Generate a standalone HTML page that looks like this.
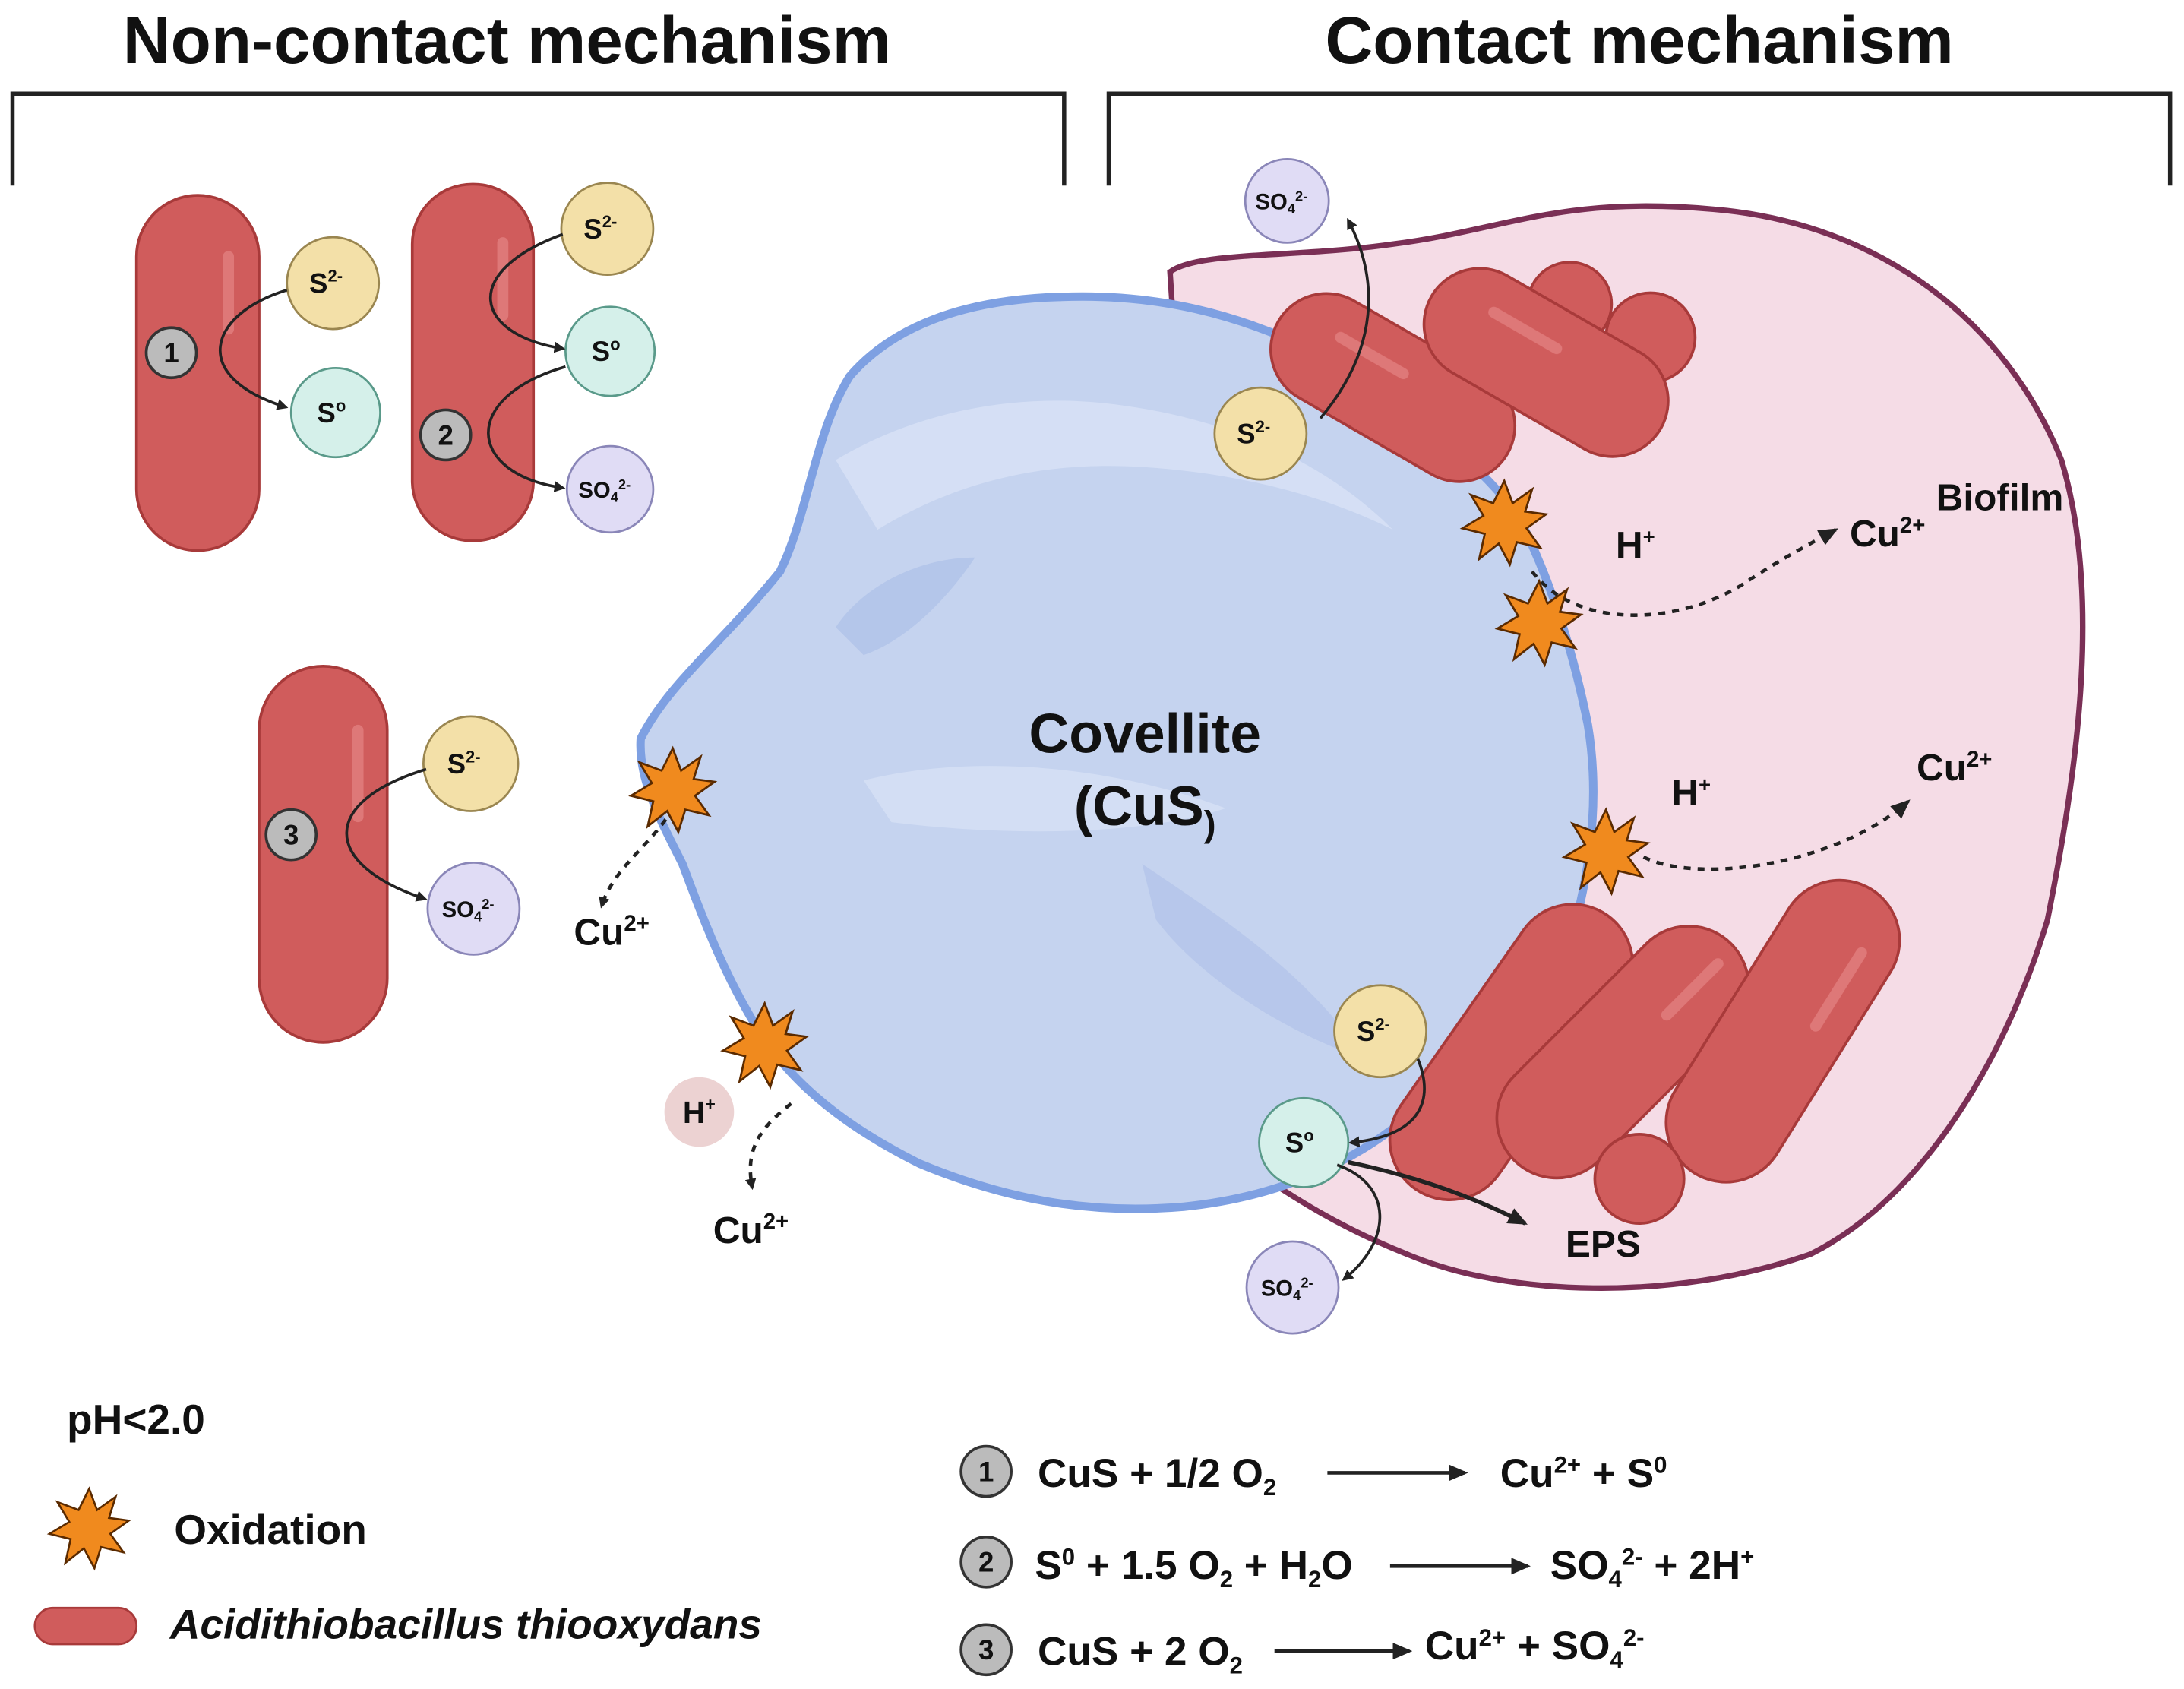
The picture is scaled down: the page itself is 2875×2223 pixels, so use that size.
<!DOCTYPE html>
<html><head><meta charset="utf-8"><style>html,body{margin:0;padding:0;background:#fff}svg{display:block}</style></head>
<body>
<svg width="2875" height="2223" viewBox="0 0 1568 1212" xmlns="http://www.w3.org/2000/svg" font-family="Liberation Sans, sans-serif" font-weight="bold">
<defs>
<marker id="ah" markerWidth="8" markerHeight="8" refX="6" refY="4" orient="auto" markerUnits="userSpaceOnUse"><path d="M0,0 L8,4 L0,8 Z" fill="#222"/></marker>
<marker id="ah2" markerWidth="14" markerHeight="12" refX="12" refY="6" orient="auto" markerUnits="userSpaceOnUse"><path d="M0,0 L14,6 L0,12 Z" fill="#222"/></marker>
<g id="star"><polygon points="0,-30 6,-14 20,-24 15,-8 30,-6 16,4 26,18 9,14 4,30 -4,15 -18,26 -14,8 -30,4 -15,-5 -24,-20 -8,-14" fill="#f08a1e" stroke="#5a2a00" stroke-width="1.5"/></g>
</defs>

<!-- titles -->
<text x="364" y="45" font-size="47.5" text-anchor="middle" fill="#111">Non-contact mechanism</text>
<text x="1177" y="45" font-size="47.5" text-anchor="middle" fill="#111">Contact mechanism</text>
<path d="M9,133 V67 H764 V133" fill="none" stroke="#222" stroke-width="3"/>
<path d="M796,133 V67 H1558 V133" fill="none" stroke="#222" stroke-width="3"/>

<!-- biofilm -->
<path d="M840,195 C860,180 930,185 1000,175 C1080,165 1120,140 1230,150 C1350,160 1440,230 1480,330 C1510,430 1490,560 1470,660 C1440,760 1380,860 1300,900 C1200,935 1080,930 1010,900 C960,880 930,860 900,840 L860,500 Z" fill="#f5dce6" stroke="#7a2f55" stroke-width="4"/>

<!-- covellite -->
<path d="M460,530 C480,490 520,460 560,410 C580,370 585,310 610,270 C640,235 690,215 760,213 C830,210 890,225 950,255 C1010,290 1060,330 1090,370 C1115,420 1130,470 1140,520 C1150,580 1140,640 1120,700 C1090,750 1050,780 1000,810 C960,840 910,860 850,866 C780,872 720,860 660,835 C610,810 570,780 545,740 C520,700 505,660 490,620 C475,590 458,560 460,530 Z" fill="#c5d3ef" stroke="#7ea0e2" stroke-width="6"/>
<path d="M600,330 C650,300 720,280 800,290 C880,300 950,330 1000,380 C960,360 900,340 820,335 C740,330 680,350 630,380 Z" fill="#d8e2f6" opacity="0.8"/>
<path d="M620,560 C700,540 800,550 880,580 C820,600 720,600 640,590 Z" fill="#d8e2f6" opacity="0.7"/>
<path d="M600,450 C620,420 660,400 700,400 C680,430 650,460 620,470 Z" fill="#adc0e8" opacity="0.7"/>
<path d="M820,620 C880,660 940,700 980,760 C920,740 860,700 830,660 Z" fill="#adc0e8" opacity="0.6"/>
<text x="822" y="540" font-size="40" text-anchor="middle" fill="#111">Covellite</text>
<text x="822" y="592" font-size="40" text-anchor="middle" fill="#111">(CuS<tspan font-size="26" dy="8">)</tspan></text>

<!-- rods: non-contact -->
<g fill="#d05c5c" stroke="#a83a3a" stroke-width="2">
<rect x="98" y="140" width="88" height="255" rx="44"/>
<rect x="296" y="132" width="87" height="256" rx="43"/>
<rect x="186" y="478" width="92" height="270" rx="46"/>
</g>
<g fill="#e88a8a" opacity="0.6">
<rect x="160" y="180" width="8" height="60" rx="4"/>
<rect x="357" y="170" width="8" height="60" rx="4"/>
<rect x="253" y="520" width="8" height="70" rx="4"/>
</g>

<!-- contact rods -->
<g fill="#d05c5c" stroke="#a83a3a" stroke-width="2">
<g transform="translate(1000,278) rotate(30)"><rect x="-95" y="-40" width="190" height="80" rx="40"/></g>
<circle cx="1127" cy="218" r="30"/>
<circle cx="1185" cy="242" r="32"/>
<g transform="translate(1110,260) rotate(30)"><rect x="-95" y="-40" width="190" height="80" rx="40"/></g>
<g transform="translate(1085,755) rotate(-55)"><rect x="-120" y="-43" width="240" height="86" rx="43"/></g>
<g transform="translate(1165,755) rotate(-45)"><rect x="-110" y="-43" width="220" height="86" rx="43"/></g>
<g transform="translate(1280,740) rotate(-58)"><rect x="-120" y="-43" width="240" height="86" rx="43"/></g>
<circle cx="1177" cy="846" r="32"/>
</g>
<g fill="#e88a8a" opacity="0.6">
<g transform="translate(985,255) rotate(30)"><rect x="-30" y="-4" width="60" height="8" rx="4"/></g>
<g transform="translate(1095,237) rotate(30)"><rect x="-30" y="-4" width="60" height="8" rx="4"/></g>
<g transform="translate(1320,710) rotate(-58)"><rect x="-35" y="-4" width="70" height="8" rx="4"/></g>
<g transform="translate(1215,710) rotate(-45)"><rect x="-30" y="-4" width="60" height="8" rx="4"/></g>
</g>

<!-- circles -->
<g stroke-width="1.5" font-size="20" text-anchor="middle" fill="#111">
<g fill="#f3e0a8" stroke="#9a8650">
<circle cx="239" cy="203" r="33"/><circle cx="436" cy="164" r="33"/><circle cx="338" cy="548" r="34"/>
<circle cx="905" cy="311" r="33"/><circle cx="991" cy="740" r="33"/>
</g>
<g fill="#d5f0ea" stroke="#5a9a8a">
<circle cx="241" cy="296" r="32"/><circle cx="438" cy="252" r="32"/><circle cx="936" cy="820" r="32"/>
</g>
<g fill="#e0dcf5" stroke="#8a86b8">
<circle cx="438" cy="351" r="31"/><circle cx="340" cy="652" r="33"/><circle cx="924" cy="144" r="30"/><circle cx="928" cy="924" r="33"/>
</g>
<circle cx="502" cy="798" r="25" fill="#ecd2d2" stroke="none"/>
<g fill="#bbb" stroke="#333" stroke-width="2">
<circle cx="123" cy="253" r="18"/><circle cx="320" cy="312" r="18"/><circle cx="209" cy="599" r="18"/>
<circle cx="708" cy="1056" r="18"/><circle cx="708" cy="1121" r="18"/><circle cx="708" cy="1184" r="18"/>
</g>
<g stroke="none" fill="#111">
<text x="123" y="260">1</text><text x="320" y="319">2</text><text x="209" y="606">3</text>
<text x="708" y="1063">1</text><text x="708" y="1128">2</text><text x="708" y="1191">3</text>
<text x="234" y="210">S<tspan font-size="12" dy="-8">2-</tspan></text>
<text x="431" y="171">S<tspan font-size="12" dy="-8">2-</tspan></text>
<text x="333" y="555">S<tspan font-size="12" dy="-8">2-</tspan></text>
<text x="900" y="318">S<tspan font-size="12" dy="-8">2-</tspan></text>
<text x="986" y="747">S<tspan font-size="12" dy="-8">2-</tspan></text>
<text x="238" y="303">S<tspan font-size="12" dy="-8">o</tspan></text>
<text x="435" y="259">S<tspan font-size="12" dy="-8">o</tspan></text>
<text x="933" y="827">S<tspan font-size="12" dy="-8">o</tspan></text>
<text x="434" y="357" font-size="16">SO<tspan font-size="10" dy="3">4</tspan><tspan font-size="10" dy="-9">2-</tspan></text>
<text x="336" y="658" font-size="16">SO<tspan font-size="10" dy="3">4</tspan><tspan font-size="10" dy="-9">2-</tspan></text>
<text x="920" y="150" font-size="16">SO<tspan font-size="10" dy="3">4</tspan><tspan font-size="10" dy="-9">2-</tspan></text>
<text x="924" y="930" font-size="16">SO<tspan font-size="10" dy="3">4</tspan><tspan font-size="10" dy="-9">2-</tspan></text>
<text x="502" y="806" font-size="22">H<tspan font-size="13" dy="-9">+</tspan></text>
</g>
</g>

<!-- arrows -->
<g fill="none" stroke="#222" stroke-width="2">
<path d="M206,208 C150,225 135,270 205,292" marker-end="url(#ah)"/>
<path d="M404,168 C330,195 340,240 404,250" marker-end="url(#ah)"/>
<path d="M406,263 C330,285 335,340 404,350" marker-end="url(#ah)"/>
<path d="M306,552 C230,575 230,620 305,645" marker-end="url(#ah)"/>
<path d="M948,300 C990,250 990,200 968,158" marker-end="url(#ah)"/>
<path d="M1018,760 C1030,790 1020,815 970,820" marker-end="url(#ah)"/>
<path d="M960,836 C1000,850 1000,890 965,918" marker-end="url(#ah)"/>
<path d="M968,834 C1020,845 1060,860 1095,878" stroke-width="3" marker-end="url(#ah2)"/>
</g>
<g fill="none" stroke="#222" stroke-width="2.5" stroke-dasharray="5,5">
<path d="M1100,410 C1130,450 1200,450 1250,420 C1280,400 1300,390 1318,380" marker-end="url(#ah2)"/>
<path d="M1180,615 C1220,635 1320,620 1370,575" marker-end="url(#ah2)"/>
<path d="M478,588 C462,610 440,625 432,650" marker-end="url(#ah)"/>
<path d="M568,792 C545,810 535,825 540,852" marker-end="url(#ah)"/>
</g>

<!-- stars -->
<use href="#star" transform="translate(1080,375)"/>
<use href="#star" transform="translate(1105,447)"/>
<use href="#star" transform="translate(483,567)"/>
<use href="#star" transform="translate(549,750)"/>
<use href="#star" transform="translate(1153,611)"/>
<use href="#star" transform="translate(64,1097) scale(0.95)"/>

<!-- labels -->
<g font-size="27" fill="#111">
<text x="1160" y="400">H<tspan font-size="15" dy="-10">+</tspan></text>
<text x="1328" y="392">Cu<tspan font-size="16" dy="-10">2+</tspan></text>
<text x="1390" y="366">Biofilm</text>
<text x="1200" y="578">H<tspan font-size="15" dy="-10">+</tspan></text>
<text x="1376" y="560">Cu<tspan font-size="16" dy="-10">2+</tspan></text>
<text x="412" y="678">Cu<tspan font-size="16" dy="-10">2+</tspan></text>
<text x="512" y="892">Cu<tspan font-size="16" dy="-10">2+</tspan></text>
<text x="1124" y="902">EPS</text>
</g>
<g font-size="30" fill="#111">
<text x="48" y="1029">pH&lt;2.0</text>
<text x="125" y="1108">Oxidation</text>
<text x="122" y="1176" font-style="italic">Acidithiobacillus thiooxydans</text>
</g>
<g font-size="29" fill="#111">
<text x="745" y="1067">CuS + 1/2 O<tspan font-size="17" dy="6">2</tspan></text>
<text x="1077" y="1067">Cu<tspan font-size="17" dy="-10">2+</tspan><tspan dy="10"> + S</tspan><tspan font-size="17" dy="-10">0</tspan></text>
<text x="743" y="1133">S<tspan font-size="17" dy="-10">0</tspan><tspan dy="10"> + 1.5 O</tspan><tspan font-size="17" dy="6">2</tspan><tspan dy="-6"> + H</tspan><tspan font-size="17" dy="6">2</tspan><tspan dy="-6">O</tspan></text>
<text x="1113" y="1133">SO<tspan font-size="17" dy="6">4</tspan><tspan font-size="17" dy="-16">2-</tspan><tspan dy="10"> + 2H</tspan><tspan font-size="17" dy="-10">+</tspan></text>
<text x="745" y="1195">CuS + 2 O<tspan font-size="17" dy="6">2</tspan></text>
<text x="1023" y="1191">Cu<tspan font-size="17" dy="-10">2+</tspan><tspan dy="10"> + SO</tspan><tspan font-size="17" dy="6">4</tspan><tspan font-size="17" dy="-16">2-</tspan></text>
</g>
<rect x="25" y="1154" width="73" height="26" rx="13" fill="#d05c5c" stroke="#a83a3a" stroke-width="1.5"/>
<g stroke="#222" stroke-width="2.5">
<line x1="953" y1="1057" x2="1052" y2="1057" marker-end="url(#ah2)"/>
<line x1="998" y1="1124" x2="1097" y2="1124" marker-end="url(#ah2)"/>
<line x1="915" y1="1185" x2="1012" y2="1185" marker-end="url(#ah2)"/>
</g>
</svg>
</body></html>
